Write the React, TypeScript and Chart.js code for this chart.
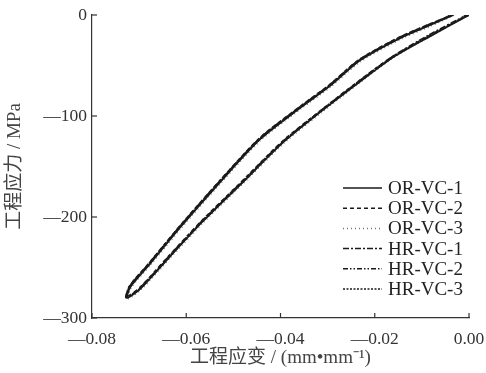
import React, { useEffect, useRef } from 'react';
import { Chart, registerables } from 'chart.js';

Chart.register(...registerables);

const seriesNames = ['OR-VC-1', 'OR-VC-2', 'OR-VC-3', 'HR-VC-1', 'HR-VC-2', 'HR-VC-3'];

const xTicks = [-0.08, -0.06, -0.04, -0.02, 0];
const yTicks = [-300, -200, -100, 0];

const orVc1Strain = [0, -0.0082, -0.0161, -0.0231, -0.0315, -0.0394, -0.0485, -0.0566, -0.0634, -0.0697, -0.0725, -0.0718, -0.0676, -0.0612, -0.0527, -0.0443, -0.0358, -0.0294, -0.0231, -0.0146, -0.0082, -0.0033];
const orVc1Stress = [0, -21, -42, -66, -96, -126, -168, -205, -239, -271, -280, -269, -246, -210, -165, -123, -92, -70, -45, -23, -10, 0];

const orVc2Strain = [0, -0.0083, -0.0162, -0.0233, -0.0316, -0.0396, -0.0487, -0.0568, -0.0636, -0.0699, -0.0727, -0.072, -0.0678, -0.0614, -0.0529, -0.0445, -0.036, -0.0296, -0.0233, -0.0148, -0.0084, -0.0035];
const orVc2Stress = [0, -20, -41, -65, -95, -125, -167, -204, -238, -270, -279, -268, -245, -209, -164, -122, -91, -69, -44, -22, -9, 0];

const orVc3Strain = [-0.0003, -0.0084, -0.0163, -0.0232, -0.0314, -0.0393, -0.0484, -0.0565, -0.0633, -0.0696, -0.0724, -0.0717, -0.0675, -0.0611, -0.0526, -0.0442, -0.0357, -0.0293, -0.023, -0.0145, -0.0081, -0.0031];
const orVc3Stress = [0, -21, -43, -67, -97, -127, -169, -206, -240, -272, -281, -270, -247, -211, -166, -124, -93, -71, -46, -24, -11, 0];

const hrVc1Strain = [-0.0005, -0.0086, -0.0165, -0.0235, -0.0318, -0.0397, -0.0488, -0.0569, -0.0637, -0.07, -0.0728, -0.0721, -0.0679, -0.0615, -0.053, -0.0446, -0.0361, -0.0297, -0.0234, -0.0149, -0.0085, -0.0038];
const hrVc1Stress = [0, -20, -42, -66, -96, -126, -168, -205, -239, -271, -280, -269, -246, -210, -165, -123, -92, -70, -45, -23, -10, 0];

const hrVc2Strain = [-0.0004, -0.0085, -0.0164, -0.0234, -0.0317, -0.0395, -0.0486, -0.0567, -0.0635, -0.0698, -0.0726, -0.0719, -0.0677, -0.0613, -0.0528, -0.0444, -0.0359, -0.0295, -0.0232, -0.0147, -0.0083, -0.0036];
const hrVc2Stress = [0, -21, -42, -66, -96, -126, -168, -205, -239, -271, -279, -268, -245, -209, -164, -122, -91, -69, -44, -22, -9, 0];

const hrVc3Strain = [-0.0002, -0.0083, -0.0162, -0.0232, -0.0316, -0.0395, -0.0486, -0.0567, -0.0635, -0.0698, -0.0726, -0.0719, -0.0677, -0.0613, -0.0528, -0.0444, -0.0359, -0.0295, -0.0232, -0.0147, -0.0083, -0.0034];
const hrVc3Stress = [0, -21, -42, -66, -96, -126, -168, -205, -239, -271, -280, -269, -246, -210, -165, -123, -92, -70, -45, -23, -10, 0];

const strains = [orVc1Strain, orVc2Strain, orVc3Strain, hrVc1Strain, hrVc2Strain, hrVc3Strain];
const stresses = [orVc1Stress, orVc2Stress, orVc3Stress, hrVc1Stress, hrVc2Stress, hrVc3Stress];

const dashes: number[][] = [[], [4, 3], [1, 3], [6, 2, 2, 2], [5, 2, 1.5, 2, 1.5, 2], [2, 1.5]];
const colors = ['#1a1a1a', '#1a1a1a', '#777777', '#1a1a1a', '#1a1a1a', '#1a1a1a'];

const FONT = "'Liberation Serif', 'Noto Sans CJK SC', serif";

const fmt = (v: number, digits: number) => {
  if (v === 0) return digits > 0 ? (0).toFixed(digits) : '0';
  return (v < 0 ? '—' : '') + Math.abs(v).toFixed(digits);
};

const decorPlugin = {
  id: 'decor',
  afterDraw(chart: any) {
    const ctx = chart.ctx;
    const xs = chart.scales.x;
    const ys = chart.scales.y;
    const area = chart.chartArea;
    ctx.save();
    ctx.strokeStyle = '#333';
    ctx.lineWidth = 1.2;
    xTicks.forEach((t) => {
      const px = xs.getPixelForValue(t);
      ctx.beginPath();
      ctx.moveTo(px, area.bottom);
      ctx.lineTo(px, area.bottom - 5);
      ctx.stroke();
    });
    yTicks.forEach((t) => {
      const py = ys.getPixelForValue(t);
      ctx.beginPath();
      ctx.moveTo(area.left, py);
      ctx.lineTo(area.left + 5, py);
      ctx.stroke();
    });
    // legend
    const x0 = 343;
    const x1 = 382;
    const yStart = 188;
    const dy = 20.2;
    ctx.font = `19px ${FONT}`;
    ctx.textBaseline = 'middle';
    ctx.textAlign = 'left';
    chart.data.datasets.forEach((ds: any, i: number) => {
      const y = yStart + i * dy;
      ctx.strokeStyle = ds.borderColor;
      ctx.lineWidth = 1.5;
      ctx.setLineDash(ds.borderDash || []);
      ctx.beginPath();
      ctx.moveTo(x0, y);
      ctx.lineTo(x1, y);
      ctx.stroke();
      ctx.setLineDash([]);
      ctx.fillStyle = '#222';
      ctx.fillText(ds.label, x1 + 6, y + 1);
    });
    ctx.restore();
  },
};

export default function App() {
  const ref = useRef<HTMLCanvasElement | null>(null);
  useEffect(() => {
    document.body.style.margin = '0';
    const canvas = ref.current;
    if (!canvas) return;
    const datasets = seriesNames.map((name, i) => ({
      label: name,
      data: strains[i].map((x, j) => ({ x, y: stresses[i][j] })),
      showLine: true,
      borderColor: colors[i],
      borderWidth: 1.6,
      borderDash: dashes[i],
      pointRadius: 0,
      tension: 0.25,
      fill: false,
    }));
    const chart = new Chart(canvas, {
      type: 'scatter',
      data: { datasets },
      plugins: [decorPlugin],
      options: {
        responsive: false,
        animation: false,
        layout: { padding: { top: 15, right: 17, left: 0, bottom: 0 } },
        plugins: { legend: { display: false }, tooltip: { enabled: false } },
        scales: {
          x: {
            type: 'linear',
            min: -0.08,
            max: 0,
            afterBuildTicks: (s: any) => {
              s.ticks = xTicks.map((v) => ({ value: v }));
            },
            afterFit: (s: any) => {
              s.height = 55;
              s.paddingRight = 0;
              s.paddingLeft = 0;
            },
            grid: { display: false, drawTicks: false },
            border: { display: true, color: '#333', width: 1.2 },
            ticks: {
              color: '#333',
              padding: 11,
              font: { family: FONT, size: 17.5 },
              callback: (v: any) => fmt(Number(v), 2),
              maxRotation: 0,
            },
            title: {
              display: true,
              text: '工程应变 / (mm•mm⁻¹)',
              color: '#444',
              font: { family: FONT, size: 19 },
              padding: { top: 0, bottom: 4 },
            },
          },
          y: {
            type: 'linear',
            min: -300,
            max: 0,
            afterBuildTicks: (s: any) => {
              s.ticks = yTicks.map((v) => ({ value: v }));
            },
            afterFit: (s: any) => {
              s.width = 92;
              s.paddingTop = 0;
              s.paddingBottom = 0;
            },
            grid: { display: false, drawTicks: false },
            border: { display: true, color: '#333', width: 1.2 },
            ticks: {
              color: '#333',
              padding: 5,
              font: { family: FONT, size: 17.5 },
              callback: (v: any) => fmt(Number(v), 0),
            },
            title: {
              display: true,
              text: '工程应力 / MPa',
              color: '#444',
              font: { family: FONT, size: 19 },
              padding: { top: 4, bottom: 0 },
            },
          },
        },
      },
    });
    return () => chart.destroy();
  }, []);
  return <canvas ref={ref} width={486} height={373} style={{ display: 'block' }} />;
}
